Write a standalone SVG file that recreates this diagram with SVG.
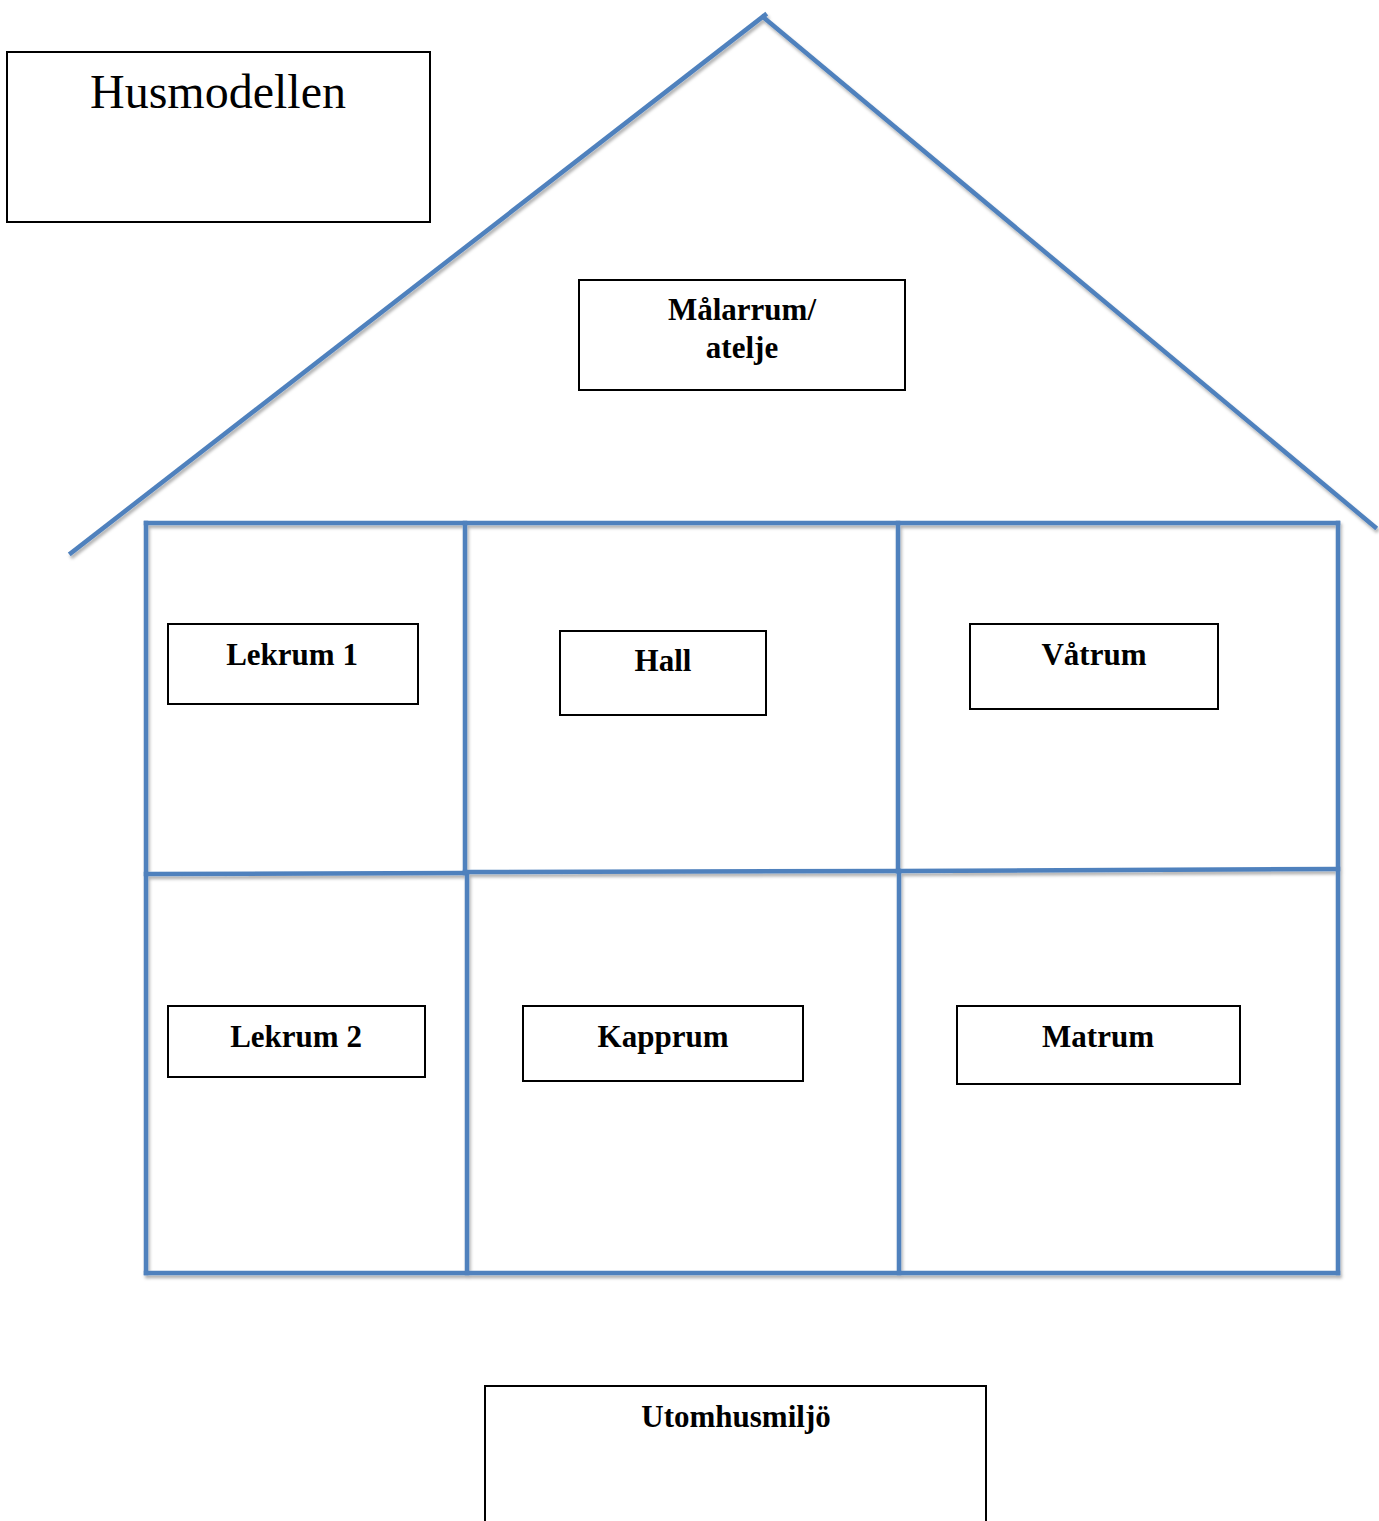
<svg xmlns="http://www.w3.org/2000/svg" width="1379" height="1521" viewBox="0 0 1379 1521">
<defs>
<filter id="sh" x="-5%" y="-5%" width="110%" height="110%">
<feDropShadow dx="1.5" dy="3" stdDeviation="1.8" flood-color="#000" flood-opacity="0.3"/>
</filter>
<style>
.w{stroke:#4F81BD;stroke-width:4.5;fill:none;stroke-linecap:square}
.b{fill:#fff;stroke:#000;stroke-width:2}
.t{font-family:"Liberation Serif","Times New Roman",serif;font-weight:bold;font-size:31px;fill:#000;text-anchor:middle}
.h{font-family:"Liberation Serif","Times New Roman",serif;font-size:48px;fill:#000;text-anchor:middle}
</style>
</defs>
<rect width="1379" height="1521" fill="#fff"/>
<g id="connectors" filter="url(#sh)">
<line class="w" x1="71" y1="553" x2="765" y2="15"/>
<line class="w" x1="763" y1="17" x2="1375" y2="527"/>
<line class="w" x1="146" y1="523" x2="1338" y2="523"/>
<line class="w" x1="146" y1="523" x2="146" y2="1273"/>
<line class="w" x1="1338" y1="523" x2="1338" y2="1273"/>
<line class="w" x1="146" y1="1273" x2="1338" y2="1273"/>
<line class="w" x1="465" y1="523" x2="465" y2="873"/>
<line class="w" x1="467" y1="873" x2="467" y2="1273"/>
<line class="w" x1="898" y1="523" x2="898" y2="871"/>
<line class="w" x1="899" y1="871" x2="899" y2="1273"/>
<line class="w" x1="146" y1="874" x2="465" y2="873"/>
<line class="w" x1="465" y1="872" x2="898" y2="871"/>
<line class="w" x1="898" y1="871" x2="1338" y2="869"/>
</g>
<g id="husmodellen"><rect class="b" x="7" y="52" width="423" height="170"/><text class="h" x="218" y="108">Husmodellen</text></g>
<g id="malarrum"><rect class="b" x="579" y="280" width="326" height="110"/><text class="t" x="742" y="320">Målarrum/</text><text class="t" x="742" y="358">atelje</text></g>
<g id="lekrum1"><rect class="b" x="168" y="624" width="250" height="80"/><text class="t" x="292" y="665">Lekrum 1</text></g>
<g id="hall"><rect class="b" x="560" y="631" width="206" height="84"/><text class="t" x="663" y="671">Hall</text></g>
<g id="vatrum"><rect class="b" x="970" y="624" width="248" height="85"/><text class="t" x="1094" y="665">Våtrum</text></g>
<g id="lekrum2"><rect class="b" x="168" y="1006" width="257" height="71"/><text class="t" x="296" y="1047">Lekrum 2</text></g>
<g id="kapprum"><rect class="b" x="523" y="1006" width="280" height="75"/><text class="t" x="663" y="1047">Kapprum</text></g>
<g id="matrum"><rect class="b" x="957" y="1006" width="283" height="78"/><text class="t" x="1098" y="1047">Matrum</text></g>
<g id="utomhusmiljo"><rect class="b" x="485" y="1386" width="501" height="150"/><text class="t" x="736" y="1427">Utomhusmiljö</text></g>
</svg>
